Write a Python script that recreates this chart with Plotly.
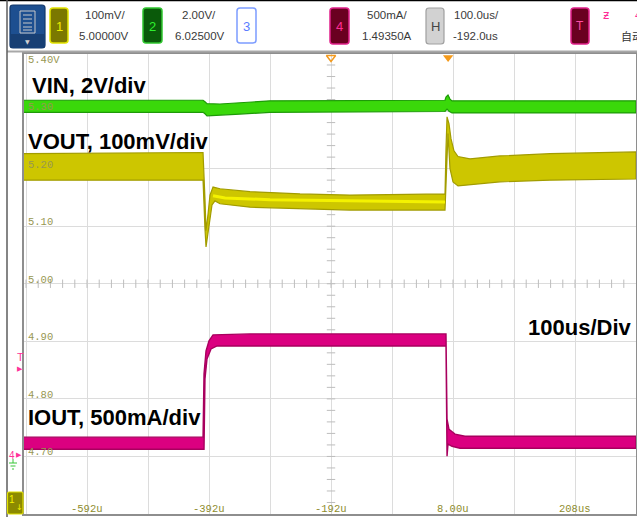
import numpy as np
import plotly.graph_objects as go

W, H = 637, 517

# ---------------- channel settings (from the scope header) ----------------
CH1_SCALE, CH1_OFFSET = 0.1, 5.000      # VOUT  100mV/div, 5.00000V
CH2_SCALE, CH2_OFFSET = 2.0, 6.025      # VIN   2.00V/div, 6.02500V
CH4_SCALE, CH4_OFFSET = 0.5, 1.4935     # IOUT  500mA/div, 1.49350A
H_CENTER = -192.0                        # us
X_RANGE = [-695.3, 308.0]                # us
Y_RANGE = [4.6, 5.4]                     # ch1 volts (screen scale)

# ---------------- data ----------------
# VOUT envelope (V), time in us
vout_hi_t = [-695.3, -401.8, -398.6, -396.9, -393.6, -390.4, -385.4, -374.0, -324.8, -242.8, -160.9,
             -5.1, -3.5, -1.8, 1.4, 4.7, 9.6, 16.2, 35.9, 85.0, 167.0, 308.0]
vout_hi = [5.226, 5.228, 5.147, 5.092, 5.121, 5.154, 5.168, 5.165, 5.160, 5.156, 5.154,
           5.156, 5.234, 5.290, 5.278, 5.252, 5.231, 5.221, 5.217, 5.222, 5.226, 5.229]
vout_lo_t = [-695.3, -401.8, -400.2, -398.6, -396.9, -395.3, -392.0, -387.1, -382.2, -374.0, -324.8,
             -242.8, -160.9, -5.1, -3.5, -1.8, -0.2, 3.1, 8.0, 16.2, 35.9, 85.0, 167.0, 308.0]
vout_lo = [5.180, 5.180, 5.147, 5.095, 5.064, 5.069, 5.099, 5.137, 5.144, 5.139, 5.133,
           5.130, 5.128, 5.128, 5.165, 5.217, 5.261, 5.200, 5.177, 5.170, 5.172, 5.177, 5.180, 5.182]
vout_mid_t = [-385.4, -365.8, -292.0, -160.9, -5.1]
vout_mid = [5.153, 5.149, 5.146, 5.144, 5.142]

# VIN envelope (V)
vin_hi_t = [-695.3, -401.8, -398.6, -395.3, -374.0, -341.2, -292.0, -5.1, -3.5, -0.2, 3.1, 6.4, 308.0]
vin_hi = [12.40, 12.40, 12.35, 12.28, 12.27, 12.31, 12.38, 12.40, 12.51, 12.58, 12.44, 12.38, 12.38]
vin_lo_t = [-695.3, -401.8, -398.6, -395.3, -374.0, -341.2, -292.0, -5.1, -1.8, 1.4, 6.4, 308.0]
vin_lo = [11.98, 11.98, 11.93, 11.86, 11.87, 11.92, 11.98, 12.01, 12.09, 12.02, 11.96, 11.96]

# IOUT envelope (A)
iout_hi_t = [-695.3, -401.8, -400.2, -396.9, -392.0, -385.4, -324.8, -3.5, -1.8, 1.4, 11.3, 27.7, 308.0]
iout_hi = [0.161, 0.161, 0.710, 0.910, 0.997, 1.049, 1.058, 1.058, 0.318, 0.230, 0.187, 0.169, 0.169]
iout_lo_t = [-695.3, -400.2, -398.6, -395.3, -388.7, -378.9, -3.5, -1.8, -0.2, 6.4, 19.5, 308.0]
iout_lo = [0.056, 0.056, 0.666, 0.840, 0.927, 0.953, 0.953, -0.005, 0.100, 0.082, 0.065, 0.065]

y_tick_labels = ["5.40V", "5.30", "5.20", "5.10", "5.00", "4.90", "4.80", "4.70"]
y_tick_vals = [5.40, 5.30, 5.20, 5.10, 5.00, 4.90, 4.80, 4.70]
x_tick_labels = ["-592u", "-392u", "-192u", "8.00u", "208us"]
x_tick_vals = [-592, -392, -192, 8, 208]


def to_screen(vals, scale, offset):
    """convert channel units to ch1 screen units"""
    return [CH1_OFFSET + (v - offset) / scale * CH1_SCALE for v in vals]


def px(x):
    return x / W


def py(y):
    return 1 - y / H


def band(t_hi, hi, t_lo, lo, fill, edge, ew=1.0):
    xs = list(t_hi) + list(t_lo)[::-1]
    ys = list(hi) + list(lo)[::-1]
    return go.Scatter(x=xs, y=ys, mode="lines", fill="toself", fillcolor=fill,
                      line=dict(color=edge, width=ew), hoverinfo="skip", showlegend=False)


fig = go.Figure()

# minor ticks on the centre lines
mt_x = np.arange(H_CENTER - 500, X_RANGE[1], 20)
mt_x = mt_x[(mt_x > X_RANGE[0]) & (mt_x < X_RANGE[1])]
fig.add_trace(go.Scatter(x=mt_x, y=[CH1_OFFSET] * len(mt_x), mode="markers",
                         marker=dict(symbol="line-ns", size=6, line=dict(width=1, color="#bdbdbd")),
                         hoverinfo="skip", showlegend=False))
mt_y = np.arange(Y_RANGE[0] + 0.02, Y_RANGE[1], 0.02)
fig.add_trace(go.Scatter(x=[H_CENTER] * len(mt_y), y=mt_y, mode="markers",
                         marker=dict(symbol="line-ew", size=6, line=dict(width=1, color="#bdbdbd")),
                         hoverinfo="skip", showlegend=False))

# traces
fig.add_trace(band(vin_hi_t, to_screen(vin_hi, CH2_SCALE, CH2_OFFSET),
                   vin_lo_t, to_screen(vin_lo, CH2_SCALE, CH2_OFFSET),
                   "#3ad80a", "#1e9a08", 1.2))
fig.add_trace(band(vout_hi_t, vout_hi, vout_lo_t, vout_lo, "#cdc600", "#a29c00", 1.2))
fig.add_trace(go.Scatter(x=vout_mid_t, y=vout_mid, mode="lines",
                         line=dict(color="#f4f200", width=3), hoverinfo="skip", showlegend=False))
fig.add_trace(band(iout_hi_t, to_screen(iout_hi, CH4_SCALE, CH4_OFFSET),
                   iout_lo_t, to_screen(iout_lo, CH4_SCALE, CH4_OFFSET),
                   "#db0080", "#a8005e", 1.4))

# top position markers
fig.add_trace(go.Scatter(x=[H_CENTER], y=[5.393], mode="markers", cliponaxis=False,
                         marker=dict(symbol="triangle-down-open", size=8, color="#f39a1e",
                                     line=dict(color="#f39a1e", width=1.5)),
                         hoverinfo="skip", showlegend=False))
fig.add_trace(go.Scatter(x=[0], y=[5.393], mode="markers", cliponaxis=False,
                         marker=dict(symbol="triangle-down", size=9, color="#f59a1a",
                                     line=dict(width=0)),
                         hoverinfo="skip", showlegend=False))

annotations = []
shapes = []

# axis labels inside the grid
mono = dict(family="Liberation Mono", size=10.5)
for lab, v in zip(y_tick_labels, y_tick_vals):
    shift = -6 if v >= 5.4 else 4
    annotations.append(dict(x=px(26), xref="paper", y=v, yref="y", text=lab, showarrow=False,
                            xanchor="left", yanchor="middle", yshift=shift,
                            font=dict(color="#979752", **mono)))
for lab, v in zip(x_tick_labels, x_tick_vals):
    annotations.append(dict(x=v, xref="x", y=py(508.5), yref="paper", text=lab, showarrow=False,
                            xanchor="center", yanchor="middle",
                            font=dict(color="#8e8c2c", **mono)))

# channel labels
bold = dict(family="Liberation Sans", size=22, color="#000000")
for txt_, x, y, anc in [("<b>VIN, 2V/div</b>", 30, 86, "left"),
                        ("<b>VOUT, 100mV/div</b>", 26, 141, "left"),
                        ("<b>IOUT, 500mA/div</b>", 26, 417, "left"),
                        ("<b>100us/Div</b>", 633, 327, "right")]:
    annotations.append(dict(x=px(x), y=py(y), xref="paper", yref="paper", text=txt_,
                            showarrow=False, xanchor=anc, yanchor="middle", font=bold))


def rrect(x0, y0, x1, y1, r, fill, line, lw=1.2):
    p = (f"M {px(x0 + r)},{py(y0)} L {px(x1 - r)},{py(y0)} Q {px(x1)},{py(y0)} {px(x1)},{py(y0 + r)} "
         f"L {px(x1)},{py(y1 - r)} Q {px(x1)},{py(y1)} {px(x1 - r)},{py(y1)} "
         f"L {px(x0 + r)},{py(y1)} Q {px(x0)},{py(y1)} {px(x0)},{py(y1 - r)} "
         f"L {px(x0)},{py(y0 + r)} Q {px(x0)},{py(y0)} {px(x0 + r)},{py(y0)} Z")
    shapes.append(dict(type="path", path=p, xref="paper", yref="paper",
                       fillcolor=fill, line=dict(color=line, width=lw), layer="above"))


def txt(x, y, s, size=11.5, color="#3a3a3a", family="Liberation Sans", anchor="center"):
    annotations.append(dict(x=px(x), y=py(y), xref="paper", yref="paper", text=s, showarrow=False,
                            xanchor=anchor, yanchor="middle",
                            font=dict(family=family, size=size, color=color)))


def line(x0, y0, x1, y1, color, width):
    shapes.append(dict(type="line", x0=px(x0), y0=py(y0), x1=px(x1), y1=py(y1),
                       xref="paper", yref="paper", line=dict(color=color, width=width),
                       layer="above"))


# header
line(0, 0.6, W, 0.6, "#000000", 1.5)
line(7, 51.5, W, 51.5, "#a8a8a8", 2)
line(7, 0, 7, H, "#5c5c5c", 1.5)

rrect(10, 5, 45, 48, 3, "#1d4f90", "#12386a")
shapes.append(dict(type="rect", x0=px(10.5), x1=px(44.5), y0=py(47.5), y1=py(34),
                   xref="paper", yref="paper", fillcolor="#173f74", line=dict(width=0), layer="above"))
shapes.append(dict(type="rect", x0=px(20), x1=px(35), y0=py(33), y1=py(11),
                   xref="paper", yref="paper", fillcolor="rgba(0,0,0,0)",
                   line=dict(color="#c8c8c8", width=1), layer="above"))
for yy in [15, 19, 23, 27, 30]:
    line(23, yy, 32, yy, "#c8c8c8", 1)
txt(27.5, 41, "▼", size=6, color="#d0d0d0", family="DejaVu Sans")

rrect(50, 8, 68, 43, 3, "#7b7800", "#e4e400", 1.5)
txt(59, 26, "1", size=13, color="#f0ee00")
txt(105, 15, "100mV/")
txt(104, 36.5, "5.00000V")

rrect(143, 8, 162, 43, 3, "#0a5a0a", "#2fc62f", 1.5)
txt(152.5, 26, "2", size=13, color="#2ef02e")
txt(198.5, 15, "2.00V/")
txt(199.5, 36.5, "6.02500V")

rrect(237, 8, 256, 43, 3, "#ffffff", "#7c9cff", 1.5)
txt(246.5, 26, "3", size=13, color="#5a7cff")

rrect(330, 8, 349, 44, 3, "#6a0020", "#e0208a", 1.5)
txt(339.5, 26, "4", size=13, color="#ff2d96")
txt(386.5, 15, "500mA/")
txt(387, 36.5, "1.49350A")

rrect(426, 8, 444, 44, 3, "#d2d2d2", "#a0a0a0", 1.2)
txt(435, 26, "H", size=13, color="#444444")
txt(476.5, 15, "100.0us/")
txt(475.5, 36.5, "-192.0us")

rrect(571, 8, 589, 44, 3, "#6a0020", "#e0208a", 1.5)
txt(580, 26, "T", size=12, color="#ff4da6")
txt(606, 15, "ƶ", size=12, color="#ff2d96", family="DejaVu Sans")
txt(633, 15, "4", size=11, color="#ff2d96", anchor="left")
txt(619, 36, "自动", size=11, color="#333333", family="Noto Sans CJK SC", anchor="left")

# left side markers
txt(20, 357, "T", size=11, color="#ff3399")
txt(20, 369, "▶", size=7, color="#ff3399", family="DejaVu Sans")
txt(12, 455, "4", size=10, color="#ff3399")
txt(19, 455, "▶", size=7, color="#ff3399", family="DejaVu Sans")
line(13, 459, 13, 463, "#39c639", 1)
line(9, 463, 17, 463, "#39c639", 1)
line(10.5, 466, 15.5, 466, "#39c639", 1)
line(12, 469, 14, 469, "#39c639", 1)
rrect(7.5, 492, 23, 514, 1.5, "#8c8a00", "#e0e000", 1.2)
txt(12, 499, "1", size=10, color="#f4f200")
txt(19, 508, "↓", size=8, color="#f4f200", family="DejaVu Sans")

fig.update_layout(
    width=W, height=H, autosize=False,
    margin=dict(l=0, r=0, t=0, b=0),
    paper_bgcolor="#ffffff", plot_bgcolor="#ffffff",
    showlegend=False,
    xaxis=dict(domain=[px(24), px(636)], range=X_RANGE, tick0=H_CENTER, dtick=100,
               showgrid=True, gridcolor="#dcdcdc", gridwidth=1, zeroline=False,
               showticklabels=False, ticks="", showline=True, mirror=True,
               linecolor="#8e8e8e", linewidth=1.5, fixedrange=True),
    yaxis=dict(domain=[py(514), py(53.5)], range=Y_RANGE, tick0=5.0, dtick=0.1,
               showgrid=True, gridcolor="#dcdcdc", gridwidth=1, zeroline=False,
               showticklabels=False, ticks="", showline=True, mirror=True,
               linecolor="#8e8e8e", linewidth=1.5, fixedrange=True),
    annotations=annotations,
    shapes=shapes,
)

fig.write_html("out.html", config={"displayModeBar": False},
               post_script="document.body.style.margin='0px';document.body.style.padding='0px';")
